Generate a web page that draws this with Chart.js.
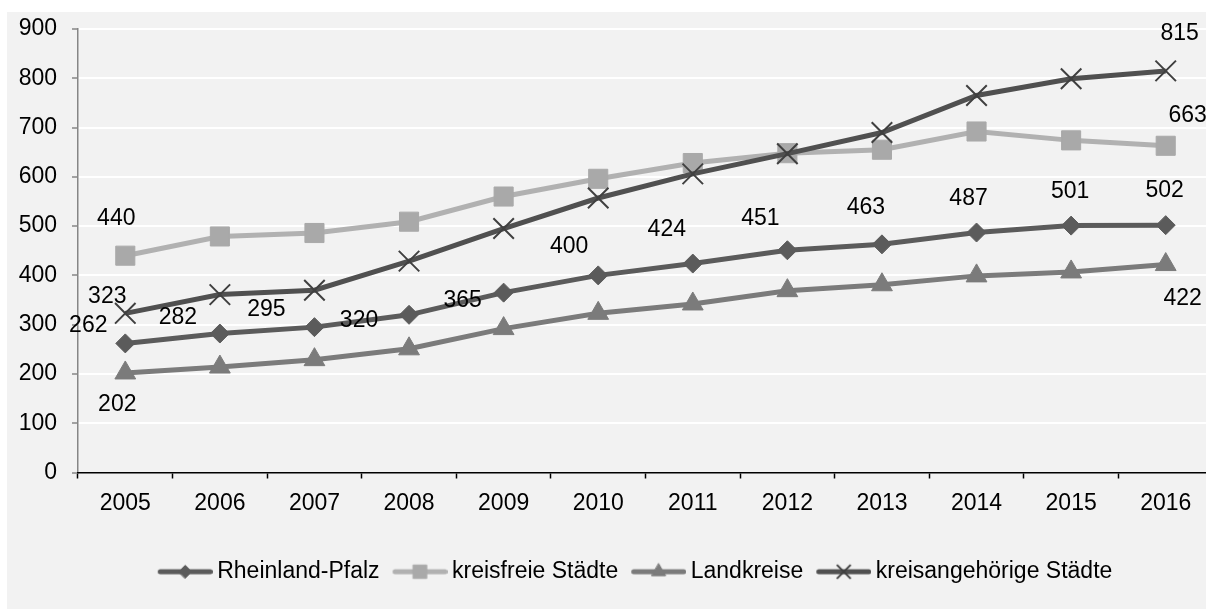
<!DOCTYPE html>
<html>
<head>
<meta charset="utf-8">
<script src="https://cdn.jsdelivr.net/npm/chart.js@4/dist/chart.umd.min.js"></script>
<style>
html, body { margin: 0; padding: 0; background: #fff; overflow: hidden; width: 1206px; height: 609px; }
#wrap { position: absolute; left: 7px; top: 12px; width: 1256px; height: 597px; background: #f2f2f2; }
</style>
</head>
<body>
<div id="wrap"><canvas id="chart"></canvas></div>
<script>
// data
const years = ["2005", "2006", "2007", "2008", "2009", "2010", "2011", "2012", "2013", "2014", "2015", "2016"];
const rheinlandPfalz = [262, 282, 295, 320, 365, 400, 424, 451, 463, 487, 501, 502];
const kreisfreieStaedte = [440, 479, 486, 509, 560, 596, 628, 648, 655, 692, 674, 663];
const landkreise = [202, 214, 229, 251, 292, 323, 342, 369, 381, 399, 407, 422];
const kreisangehoerigeStaedte = [323, 361, 370, 429, 495, 557, 606, 647, 690, 765, 799, 815];

// where the value labels sit relative to their point (px), null = no label
const rpLabelOffsets = [[-37, -18], [-42, -16], [-48, -17], [-50, 6], [-41, 8], [-29, -29], [-26, -34], [-27, -32], [-16, -37], [-8, -34], [-1, -34], [-1, -34]];
const kfLabelOffsets = [[-9, -37], null, null, null, null, null, null, null, null, null, null, [22, -30]];
const lkLabelOffsets = [[-8, 32], null, null, null, null, null, null, null, null, null, null, [17, 34]];
const kaLabelOffsets = [[-18, -17], null, null, null, null, null, null, null, null, null, null, [14, -37]];

const FONT = '"Liberation Sans", Arial, sans-serif';
const FONT_SIZE = 23;
Chart.defaults.font.family = FONT;
Chart.defaults.font.size = FONT_SIZE;
Chart.defaults.color = '#000';

// legend sample: a short thick line with the marker in the middle
function legendSample(lineColor, markColor, style, radius, markBorder) {
    const c = document.createElement('canvas');
    c.width = 62; c.height = 24;
    const g = c.getContext('2d');
    g.strokeStyle = lineColor;
    g.lineWidth = 5;
    g.lineCap = 'round';
    g.beginPath();
    g.moveTo(9.5, 12);
    g.lineTo(59.5, 12);
    g.stroke();
    g.fillStyle = markColor;
    g.strokeStyle = markColor;
    g.lineWidth = markBorder;
    Chart.helpers.drawPoint(g, { pointStyle: style, radius: radius, borderWidth: markBorder, rotation: 0 }, 34.5, 12);
    return c;
}

const valueLabels = {
    id: 'valueLabels',
    afterDatasetsDraw(chart) {
        const ctx = chart.ctx;
        ctx.save();
        ctx.font = FONT_SIZE + 'px ' + FONT;
        ctx.fillStyle = '#000';
        ctx.textAlign = 'center';
        ctx.textBaseline = 'middle';
        chart.data.datasets.forEach((ds, i) => {
            const meta = chart.getDatasetMeta(i);
            ds.labelOffsets.forEach((off, j) => {
                if (!off) return;
                const p = meta.data[j];
                ctx.fillText(String(ds.data[j]), p.x + off[0], p.y + off[1]);
            });
        });
        ctx.restore();
    }
};

const datasets = [
    {
        label: "Rheinland-Pfalz", data: rheinlandPfalz, labelOffsets: rpLabelOffsets,
        borderColor: '#5b5b5b', backgroundColor: '#5b5b5b', pointBorderColor: '#5b5b5b',
        pointStyle: 'rectRot', pointRadius: 9.5, pointBorderWidth: 1, borderWidth: 5, order: 0,
        legendMark: legendSample('#5b5b5b', '#5b5b5b', 'rectRot', 6.5, 1)
    },
    {
        label: "kreisfreie Städte", data: kreisfreieStaedte, labelOffsets: kfLabelOffsets,
        borderColor: '#b1b1b1', backgroundColor: '#a9a9a9', pointBorderColor: '#a9a9a9',
        pointStyle: 'rect', pointRadius: 13.5, pointBorderWidth: 1, borderWidth: 5, order: 2,
        legendMark: legendSample('#b1b1b1', '#a9a9a9', 'rect', 9.5, 1)
    },
    {
        label: "Landkreise", data: landkreise, labelOffsets: lkLabelOffsets,
        borderColor: '#7b7b7b', backgroundColor: '#7b7b7b', pointBorderColor: '#7b7b7b',
        pointStyle: 'triangle', pointRadius: 12, pointBorderWidth: 1, borderWidth: 5, order: 3,
        legendMark: legendSample('#7b7b7b', '#7b7b7b', 'triangle', 8, 1)
    },
    {
        label: "kreisangehörige Städte", data: kreisangehoerigeStaedte, labelOffsets: kaLabelOffsets,
        borderColor: '#505050', backgroundColor: '#404040', pointBorderColor: '#404040',
        pointStyle: 'crossRot', pointRadius: 14.5, pointBorderWidth: 2, borderWidth: 5, order: 1,
        legendMark: legendSample('#505050', '#404040', 'crossRot', 9, 2)
    }
];

new Chart(document.getElementById("chart"), {
    type: "line",
    data: { labels: years, datasets: datasets },
    options: {
        responsive: true,
        maintainAspectRatio: false,
        animation: false,
        events: [],
        layout: { padding: { top: 17, bottom: 15.75, left: 0, right: 0 } },
        elements: { line: { tension: 0 } },
        scales: {
            x: {
                offset: true,
                grid: { offset: true, drawOnChartArea: false, tickLength: 6, tickColor: '#000', tickWidth: 1.5 },
                border: { color: '#000', width: 1.5, z: 1 },
                ticks: { color: '#000', padding: 11, maxRotation: 0, autoSkip: false },
                afterFit(s) { s.height = 74.75; }
            },
            y: {
                min: 0, max: 900,
                ticks: { stepSize: 100, color: '#000', padding: 15 },
                grid: {
                    color: (c) => (c.tick && c.tick.value === 0) ? 'rgba(0,0,0,0)' : '#ffffff',
                    lineWidth: 2, tickLength: 6, tickColor: '#868686', tickWidth: 1.5
                },
                border: { color: '#868686', width: 1.5 },
                afterFit(s) { s.width = 71; s.paddingTop = 0; s.paddingBottom = 0; }
            },
            y2: {
                position: 'right',
                grid: { display: false },
                ticks: { display: false },
                border: { display: false },
                afterFit(s) { s.width = 50; s.paddingTop = 0; s.paddingBottom = 0; }
            }
        },
        plugins: {
            tooltip: { enabled: false },
            legend: {
                position: 'bottom',
                labels: {
                    usePointStyle: true,
                    pointStyleWidth: 48,
                    padding: 13,
                    color: '#000',
                    generateLabels(chart) {
                        return chart.data.datasets.map((ds, i) => ({
                            text: ds.label,
                            pointStyle: ds.legendMark,
                            fillStyle: ds.backgroundColor,
                            strokeStyle: ds.borderColor,
                            lineWidth: 0,
                            hidden: false,
                            datasetIndex: i
                        }));
                    }
                }
            }
        }
    },
    plugins: [valueLabels]
});
</script>
</body>
</html>
